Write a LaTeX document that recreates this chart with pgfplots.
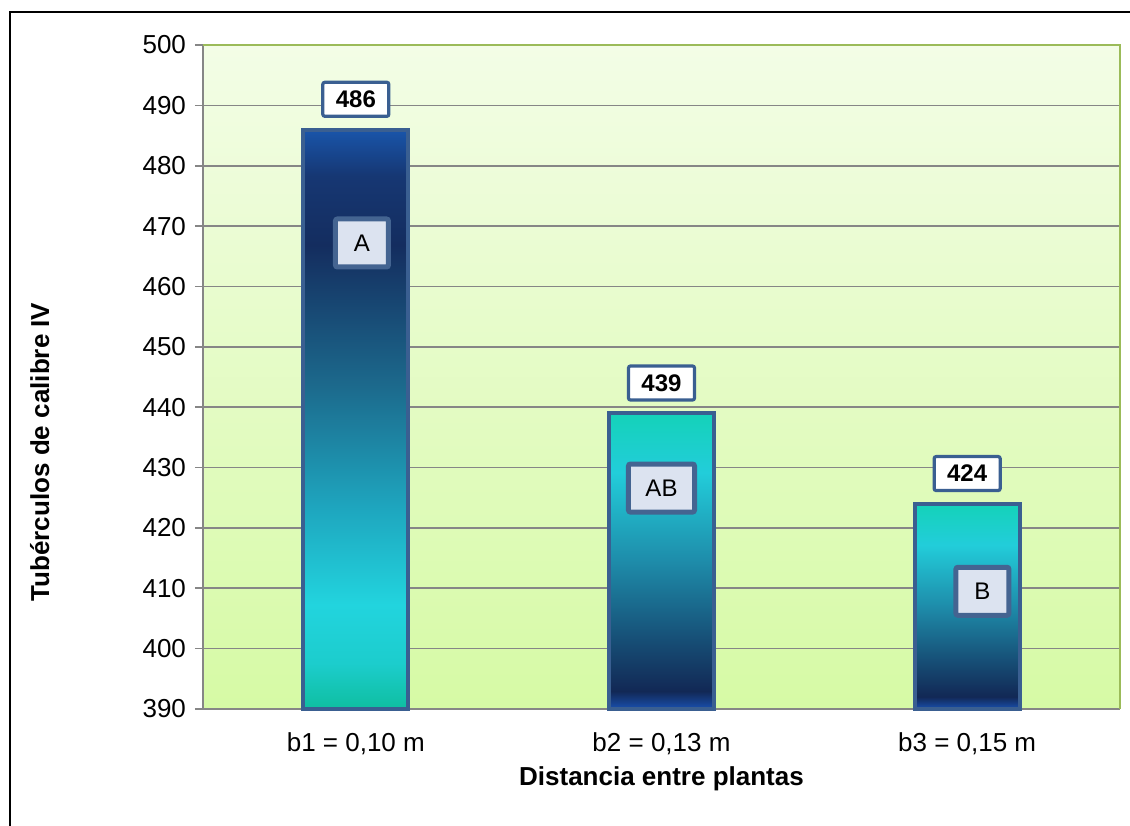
\documentclass[border=0pt]{standalone}
\usepackage{pgfplots}
\pgfplotsset{compat=1.18}
\usepackage{fontspec}
\setmainfont{Liberation Sans}

\definecolor{frameblue}{RGB}{58,95,145}
\definecolor{lettframe}{RGB}{68,100,145}
\definecolor{lettfill}{RGB}{220,227,240}
\definecolor{gridgray}{RGB}{134,134,134}
\definecolor{topgreen}{RGB}{155,187,89}
\definecolor{bgtop}{RGB}{243,253,230}
\definecolor{bgbot}{RGB}{214,250,165}

\definecolor{aA}{RGB}{15,190,160}
\definecolor{aB}{RGB}{28,205,205}
\definecolor{aC}{RGB}{34,212,222}
\definecolor{aD}{RGB}{30,165,190}
\definecolor{aE}{RGB}{28,105,140}
\definecolor{aF}{RGB}{20,45,95}
\definecolor{aG}{RGB}{22,55,115}
\definecolor{aH}{RGB}{25,85,170}

\definecolor{bA}{RGB}{25,80,175}
\definecolor{bB}{RGB}{18,40,85}
\definecolor{bC}{RGB}{22,75,115}
\definecolor{bD}{RGB}{30,140,170}
\definecolor{bE}{RGB}{34,205,218}
\definecolor{bF}{RGB}{20,210,185}

\pgfdeclareverticalshading{barone}{100bp}{color(0bp)=(aA); color(25bp)=(aA); color(29bp)=(aB); color(34bp)=(aC); color(42.5bp)=(aD); color(53bp)=(aE); color(65bp)=(aF); color(71bp)=(aG); color(75bp)=(aH); color(100bp)=(aH)}
\pgfdeclareverticalshading{bartwo}{100bp}{color(0bp)=(bA); color(25bp)=(bA); color(28bp)=(bB); color(36bp)=(bC); color(50bp)=(bD); color(65bp)=(bE); color(75bp)=(bF); color(100bp)=(bF)}

\begin{document}
\begin{tikzpicture}
\useasboundingbox (0,0) rectangle (565pt,412.5pt);
\draw[line width=1pt,black] (5pt,-5pt) -- (5pt,406.5pt) -- (570pt,406.5pt);
\begin{axis}[
  at={(101.5pt,58pt)}, anchor=south west,
  scale only axis, width=458.5pt, height=332pt,
  xmin=-0.5, xmax=2.5, ymin=390, ymax=500,
  ytick={390,400,...,500},
  xtick={0,1,2},
  xticklabels={{b1 = 0,10 m}, {b2 = 0,13 m}, {b3 = 0,15 m}},
  xtick pos=bottom, ytick pos=left,
  major x tick style={draw=none},
  extra x ticks={-0.5,0.5,1.5,2.5},
  extra x tick labels={},
  extra x tick style={grid=none, major tick length=4pt, tick style={draw=gridgray, line width=0.8pt}},
  tick align=outside,
  major tick length=4pt,
  ytick style={draw=gridgray, line width=0.8pt},
  ymajorgrids,
  grid style={draw=gridgray, line width=0.8pt},
  axis line style={draw=none},
  axis background/.style={shade, top color=bgtop, bottom color=bgbot},
  /pgf/number format/assume math mode=true,
  tick label style={font=\fontsize{13}{15}\selectfont},
  yticklabel style={xshift=-1pt},
  xticklabel style={yshift=-4.5pt},
  xlabel={Distancia entre plantas},
  ylabel={Tubérculos de calibre IV},
  label style={font=\bfseries\fontsize{13}{15}\selectfont},
  xlabel style={at={(axis description cs:0.5,-0.105)}, anchor=center},
  ylabel style={at={(axis description cs:-0.178,0.387)}, anchor=center},
  clip=false,
]
\draw[gridgray, line width=0.8pt] (rel axis cs:0,1) -- (rel axis cs:0,0) -- (rel axis cs:1,0);
\draw[topgreen, line width=1.2pt] (rel axis cs:0,1) -- (rel axis cs:1,1) -- (rel axis cs:1,0);

\pgfplotsset{valbox/.style={
  nodes near coords,
  every node near coord/.append style={anchor=south, yshift=5.8pt, fill=white, draw=frameblue, line width=1.6pt, rounded corners=1pt, font=\bfseries\fontsize{12}{14}\selectfont, minimum width=33pt, minimum height=17pt, inner sep=2pt, text=black}
}}

\addplot[ybar, bar width=52.5pt, bar shift=0pt, draw=frameblue, line width=2pt, shading=barone, valbox] coordinates {(0,486)};
\addplot[ybar, bar width=52.5pt, bar shift=0pt, draw=frameblue, line width=2pt, shading=bartwo, valbox] coordinates {(1,439)};
\addplot[ybar, bar width=52.5pt, bar shift=0pt, draw=frameblue, line width=2pt, shading=bartwo, valbox] coordinates {(2,424)};

\addplot[draw=none, mark=none, nodes near coords, point meta=explicit symbolic,
  every node near coord/.append style={anchor=center, fill=lettfill, draw=lettframe, line width=2.5pt, rounded corners=1pt, font=\fontsize{12}{14}\selectfont, minimum width=26.5pt, minimum height=24pt, inner xsep=8.5pt, text=black}]
  coordinates {(0.02,467.2) [A] (1.0,426.6) [AB] (2.05,409.5) [B]};
\end{axis}
\end{tikzpicture}
\end{document}
